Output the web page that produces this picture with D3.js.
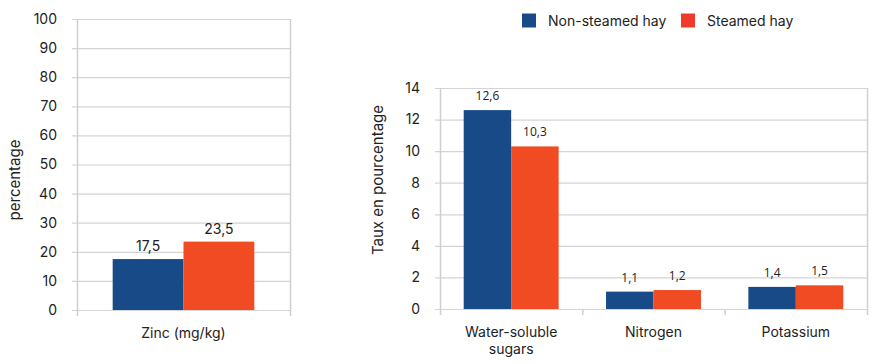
<!DOCTYPE html>
<html><head><meta charset="utf-8">
<script src="https://cdn.jsdelivr.net/npm/d3@7"></script>
<style>body{margin:0;background:#fff}svg{display:block}</style>
</head><body>
<svg id="c" width="880" height="364"></svg>
<script>
const series = ["Non-steamed hay", "Steamed hay"];
const colors = ["#174a87", "#f04b23"];
const legendColors = ["#174a87", "#ef3b2c"];

const leftCategories = ["Zinc (mg/kg)"];
const leftNonSteamed = [17.5];
const leftSteamed = [23.5];
const leftTicks = [0,10,20,30,40,50,60,70,80,90,100];

const rightCategories = [["Water-soluble","sugars"], ["Nitrogen"], ["Potassium"]];
const rightNonSteamed = [12.6, 1.1, 1.4];
const rightSteamed = [10.3, 1.2, 1.5];
const rightTicks = [0,2,4,6,8,10,12,14];

const fmt = v => String(v).replace(".", ",");
const FONT = "Inter, Lato, sans-serif";
const svg = d3.select("#c");

function panel(o){
  const g = svg.append("g");
  const x = d3.scaleBand().domain(o.cats.map((c,i)=>i)).range([o.x0,o.x1]);
  const y = d3.scaleLinear().domain([0,o.max]).range([o.y0,o.y1]);
  g.selectAll(".grid").data(o.ticks).enter().append("line")
    .attr("x1",o.x0-5).attr("x2",o.x1).attr("y1",d=>y(d)+0.5).attr("y2",d=>y(d)+0.5)
    .attr("stroke","#d4d4d4").attr("stroke-width",1.2);
  [o.x0,o.x1].forEach(xx=>g.append("line").attr("x1",xx+0.5).attr("x2",xx+0.5)
    .attr("y1",y(o.max)).attr("y2",y(0)).attr("stroke","#cfcfcf").attr("stroke-width",1.5));
  const bounds = o.cats.map((c,i)=>x(i)).concat([o.x1]);
  g.selectAll(".ct").data(bounds).enter().append("line")
    .attr("x1",d=>d+0.5).attr("x2",d=>d+0.5).attr("y1",y(0)).attr("y2",y(0)+6)
    .attr("stroke","#cfcfcf").attr("stroke-width",1.5);
  g.selectAll(".yt").data(o.ticks).enter().append("text")
    .attr("x",o.x0-20).attr("y",d=>y(d)).attr("dy","0.35em").attr("text-anchor","end")
    .attr("font-family",FONT).attr("font-size",14).attr("fill","#222").text(d=>d);
  const inner = d3.scaleBand().domain([0,1]).range([0,x.bandwidth()*o.groupFrac]);
  const off = x.bandwidth()*(1-o.groupFrac)/2;
  [o.a,o.b].forEach((vals,si)=>{
    g.selectAll(".b"+si).data(vals).enter().append("rect")
      .attr("x",(d,i)=>x(i)+off+inner(si)).attr("width",inner.bandwidth())
      .attr("y",d=>y(d)).attr("height",d=>y(0)-y(d)).attr("fill",colors[si]);
    g.selectAll(".l"+si).data(vals).enter().append("text")
      .attr("x",(d,i)=>x(i)+off+inner(si)+inner.bandwidth()/2)
      .attr("y",d=>y(d)-o.labOff).attr("text-anchor","middle")
      .attr("font-family",o.labFont).attr("font-size",o.labSize).attr("fill","#222").text(fmt);
  });
  o.cats.forEach((c,i)=>{
    const lines = Array.isArray(c)?c:[c];
    lines.forEach((t,j)=>g.append("text").attr("x",x(i)+x.bandwidth()/2).attr("y",o.catY+j*17)
      .attr("text-anchor","middle").attr("font-family",FONT).attr("font-size",14).attr("fill","#222").text(t));
  });
  g.append("text").attr("transform",`translate(${o.titleX},${o.titleY}) rotate(-90)`)
    .attr("text-anchor","middle").attr("font-family",FONT).attr("font-size",15).attr("fill","#222").text(o.title);
}

panel({cats:leftCategories,a:leftNonSteamed,b:leftSteamed,ticks:leftTicks,max:100,
  x0:77,x1:290,y0:310,y1:19,groupFrac:0.665,labOff:8,labFont:FONT,labSize:14,
  catY:338,title:"percentage",titleX:20,titleY:180});
panel({cats:rightCategories,a:rightNonSteamed,b:rightSteamed,ticks:rightTicks,max:14,
  x0:440,x1:867,y0:309,y1:88,groupFrac:0.667,labOff:10,labFont:"'Open Sans', sans-serif",labSize:12,
  catY:337,title:"Taux en pourcentage",titleX:383,titleY:180});

const lg = svg.append("g");
const lx = [522, 681];
series.forEach((s,i)=>{
  lg.append("rect").attr("x",lx[i]).attr("y",13.5).attr("width",14).attr("height",14)
    .attr("fill",legendColors[i]);
  lg.append("text").attr("x",lx[i]+26).attr("y",21).attr("dy","0.35em")
    .attr("font-family",FONT).attr("font-size",14).attr("fill","#222").text(s);
});
</script>
</body></html>
